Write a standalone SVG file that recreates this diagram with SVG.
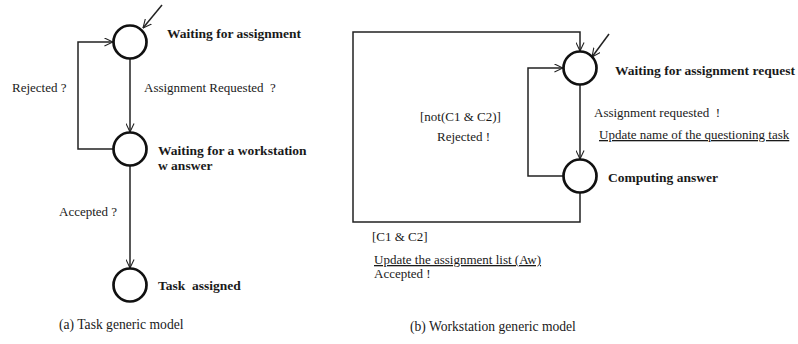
<svg xmlns="http://www.w3.org/2000/svg" width="798" height="344" viewBox="0 0 798 344">
<style>
text{font-family:"Liberation Serif","Times New Roman",serif;fill:#1a1a1a;font-size:13px}
.b{font-weight:bold;font-size:13.5px}
.u{text-decoration:underline}
.cap{font-size:13.6px}
.st{fill:#fff;stroke:#111;stroke-width:2.7}
.c{fill:none;stroke:#222;stroke-width:1.5}
</style>
<defs>
<marker id="ar" viewBox="0 0 10 10" refX="9.5" refY="5" markerWidth="9" markerHeight="9" markerUnits="userSpaceOnUse" orient="auto">
<path d="M0,0.5 L9.5,5 L0,9.5" fill="none" stroke="#222" stroke-width="1.2"/>
</marker>
</defs>
<rect width="798" height="344" fill="#fff"/>
<g id="connectors">
<path class="c" d="M162,5 L143,28" marker-end="url(#ar)"/>
<path class="c" d="M130,59 V132" marker-end="url(#ar)"/>
<path class="c" d="M113,149 H78 V42 H113" marker-end="url(#ar)"/>
<path class="c" d="M130,166 V268" marker-end="url(#ar)"/>
<path class="c" d="M609,34 L592,57" marker-end="url(#ar)"/>
<path class="c" d="M580,85 V159" marker-end="url(#ar)"/>
<path class="c" d="M563,176 H528 V68 H563" marker-end="url(#ar)"/>
<path class="c" d="M580,193 V222 H353 V32 H580 V51" marker-end="url(#ar)"/>
</g>
<g id="n-wait-assign"><circle class="st" cx="130" cy="42" r="16.5"/><text class="b" x="167" y="38">Waiting for assignment</text></g>
<g id="n-wait-ws"><circle class="st" cx="130" cy="149" r="16.5"/><text class="b" x="158" y="155">Waiting for a workstation</text><text class="b" x="158" y="170">w answer</text></g>
<g id="n-task-assigned"><circle class="st" cx="130" cy="285" r="16.5"/><text class="b" x="158" y="290" xml:space="preserve">Task  assigned</text></g>
<g id="n-wait-req"><circle class="st" cx="580" cy="68" r="16.5"/><text class="b" x="615" y="75">Waiting for assignment request</text></g>
<g id="n-computing"><circle class="st" cx="580" cy="176" r="16.5"/><text class="b" x="608" y="182">Computing answer</text></g>
<g id="labels">
<text x="12" y="92">Rejected ?</text>
<text x="144" y="92" xml:space="preserve">Assignment Requested  ?</text>
<text x="59" y="216">Accepted ?</text>
<text class="cap" x="59" y="329">(a) Task generic model</text>
<text x="594" y="117" xml:space="preserve">Assignment requested  !</text>
<text class="u" x="599" y="139">Update name of the questioning task</text>
<text x="420" y="121" font-size="13.5">[not(C1 &amp; C2)]</text>
<text x="437" y="141">Rejected !</text>
<text x="372" y="241" font-size="13.5">[C1 &amp; C2]</text>
<text class="u" x="374" y="264">Update the assignment list (Aw)</text>
<text x="374" y="278">Accepted !</text>
<text class="cap" x="410" y="331">(b) Workstation generic model</text>
</g>
</svg>
